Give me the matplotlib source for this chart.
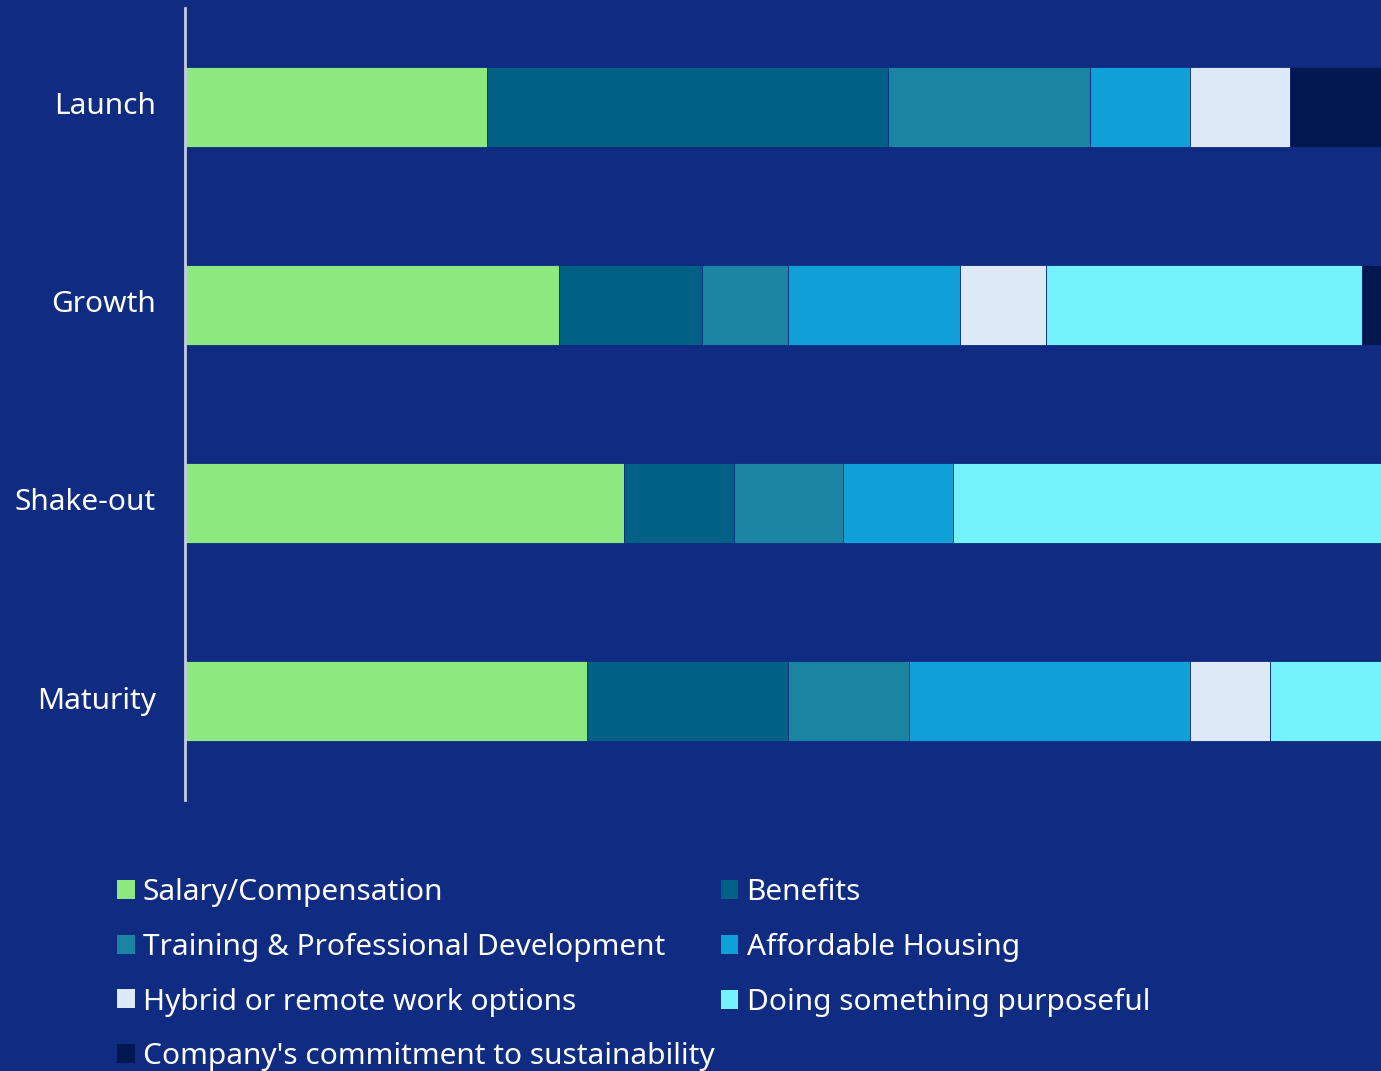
import matplotlib

matplotlib.use("Agg")
import matplotlib.pyplot as plt
from matplotlib.patches import Patch

stages = ["Launch", "Growth", "Shake-out", "Maturity"]
factors = [
    "Salary/Compensation",
    "Benefits",
    "Training & Professional Development",
    "Affordable Housing",
    "Hybrid or remote work options",
    "Doing something purposeful",
    "Company's commitment to sustainability",
]
# share of respondents (%) per stage, one list per factor
salary = [25.0, 31.0, 36.4, 33.3]
benefits = [33.3, 11.9, 9.1, 16.7]
training = [16.7, 7.1, 9.1, 10.0]
housing = [8.3, 14.3, 9.1, 23.3]
hybrid = [8.3, 7.1, 0.0, 6.7]
purposeful = [0.0, 26.2, 36.4, 10.0]
sustainability = [8.3, 2.4, 0.0, 0.0]
series = [salary, benefits, training, housing, hybrid, purposeful, sustainability]

colors = ["#8BE97F", "#006085", "#1A84A3", "#0FA0D8", "#DDE9F7", "#75F3FD", "#021750"]
bg = "#0F2B82"
fg = "#FFFFFF"

plt.rcParams["font.family"] = ["Noto Sans", "DejaVu Sans"]

W, H = 1381, 1071
fig = plt.figure(figsize=(W / 100, H / 100), dpi=100, facecolor=bg)
ax = fig.add_axes([185 / W, (H - 800) / H, 1206 / W, 792 / H])
ax.set_facecolor(bg)

y = range(len(stages))
left = [0.0] * len(stages)
for vals, c in zip(series, colors):
    ax.barh(y, vals, left=left, height=0.4, color=c, edgecolor=bg, lw=0.6)
    left = [a + b for a, b in zip(left, vals)]

ax.set_xlim(0, 100)
ax.set_ylim(3.5, -0.5)
ax.set_yticks(list(y))
ax.set_yticklabels(stages, fontsize=21.5, color=fg, va="center")
ax.tick_params(axis="y", length=0, pad=21)
ax.set_xticks([])
for side in ["top", "right", "bottom"]:
    ax.spines[side].set_visible(False)
ax.spines["left"].set_color("#C8CCE0")
ax.spines["left"].set_linewidth(2)

handles = [Patch(facecolor=c, edgecolor="none") for c in colors]
# column-first fill: reorder so entries read left to right
order = [0, 2, 4, 6, 1, 3, 5]
fig.legend(
    [handles[i] for i in order],
    [factors[i] for i in order],
    loc="upper left",
    bbox_to_anchor=(117 / W, (H - 878) / H),
    borderpad=0,
    borderaxespad=0,
    ncol=2,
    frameon=False,
    fontsize=21.5,
    labelcolor=fg,
    handlelength=0.6,
    handleheight=0.6,
    handletextpad=0.27,
    columnspacing=0.2,
    labelspacing=0.86,
)

fig.savefig("out.png", dpi=100, facecolor=bg)
